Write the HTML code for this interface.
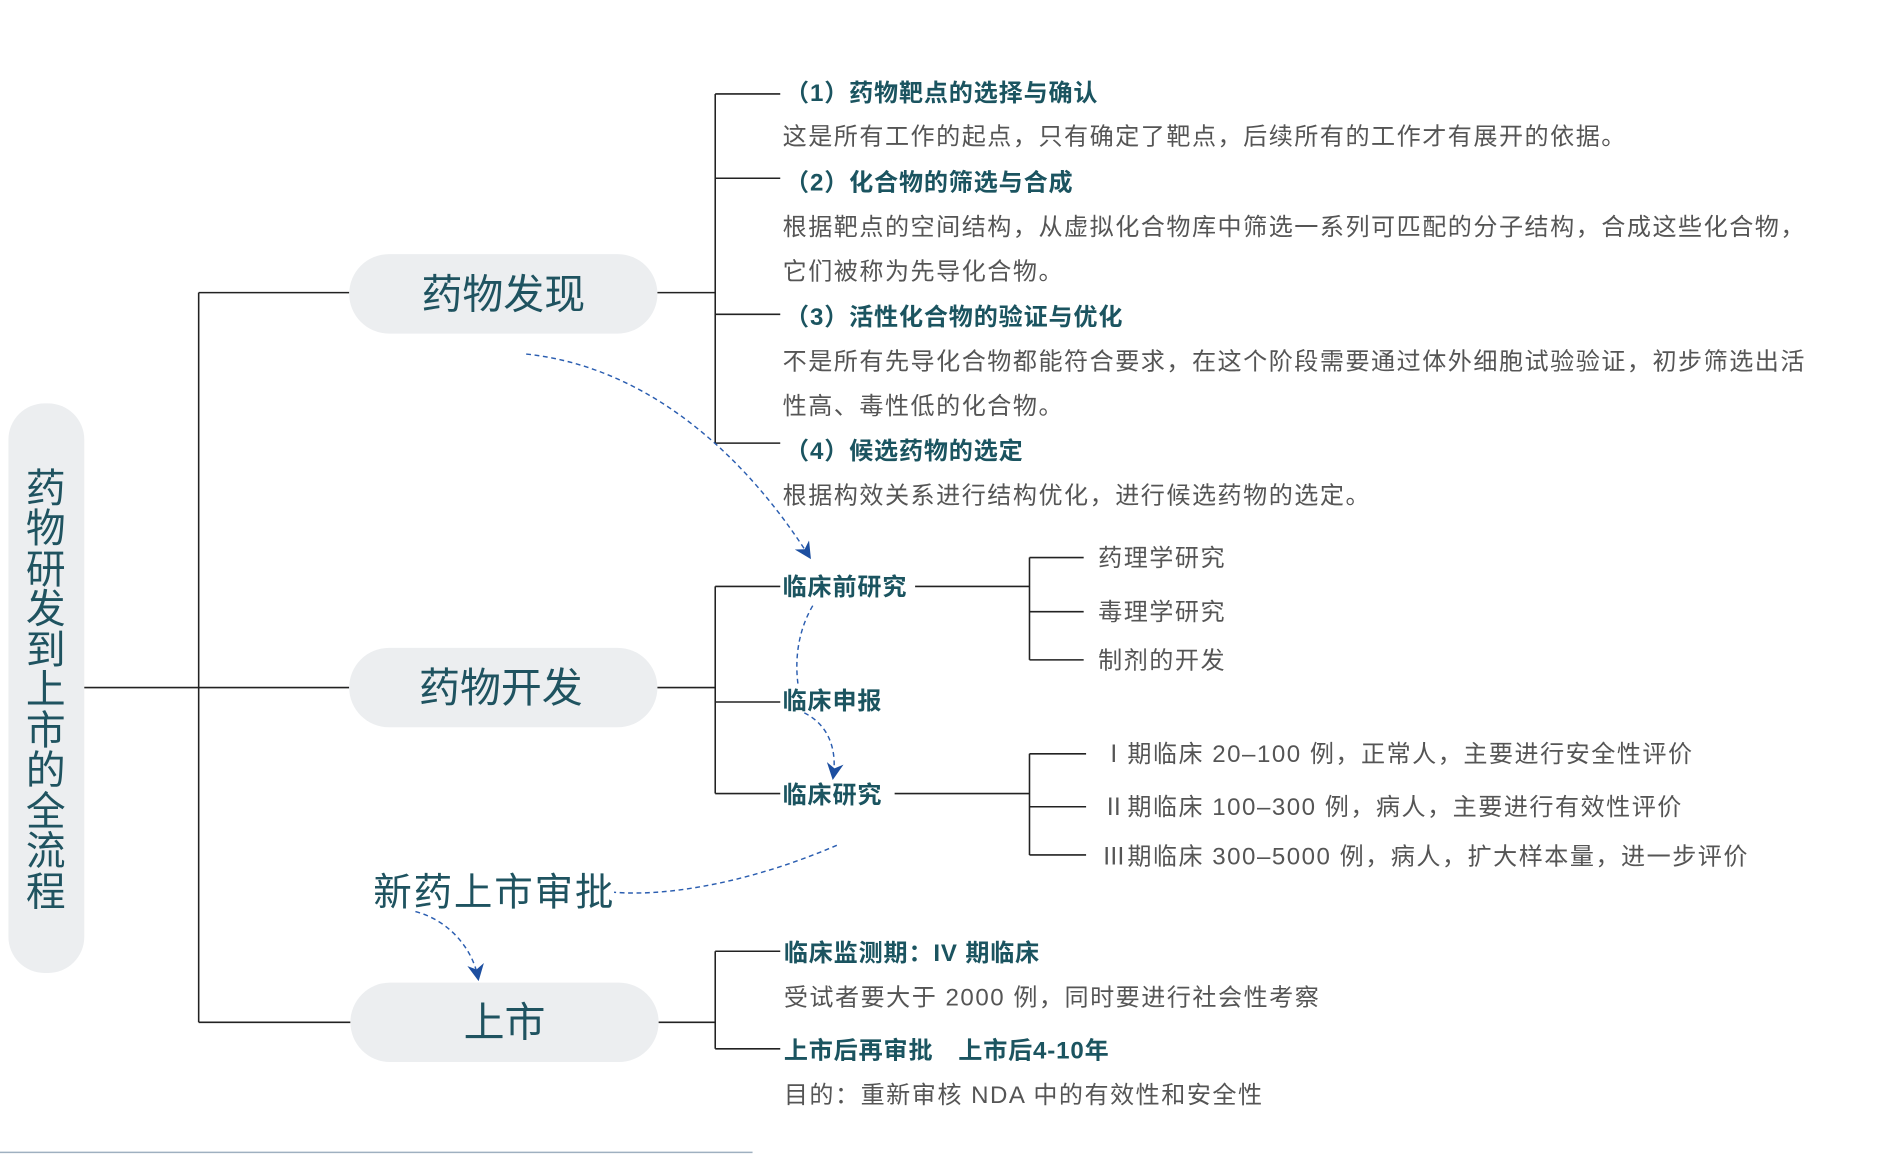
<!DOCTYPE html>
<html><head><meta charset="utf-8"><style>
html,body{margin:0;padding:0;background:#fff;}
svg{display:block;}
text{font-family:"Liberation Sans","Noto Sans CJK SC",sans-serif;}
.h{font-size:20px;font-weight:bold;fill:#1b5460;letter-spacing:0.7px;}
.b{font-size:20px;fill:#555;letter-spacing:1.25px;}
.p{font-size:34px;fill:#1f5360;}
.l{stroke:#222;stroke-width:1.3;fill:none;}
.d{stroke:#2a5db0;stroke-width:1.2;fill:none;stroke-dasharray:4 3;}
</style></head><body>
<svg width="1888" height="1156" viewBox="0 0 1568 960" xmlns="http://www.w3.org/2000/svg">
<defs><marker id="a" viewBox="0 0 10 10" refX="8" refY="5" markerWidth="14" markerHeight="14" markerUnits="userSpaceOnUse" orient="auto"><path d="M0,0 L10,5 L0,10 L3,5z" fill="#1d4fa0"/></marker></defs>
<rect x="7" y="335" width="63" height="473" rx="30" fill="#eceef0"/>
<g class="p" style="font-size:33px" text-anchor="middle">
<text x="38" y="417">药</text><text x="38" y="450">物</text><text x="38" y="484">研</text><text x="38" y="517">发</text><text x="38" y="551">到</text><text x="38" y="584">上</text><text x="38" y="618">市</text><text x="38" y="651">的</text><text x="38" y="685">全</text><text x="38" y="718">流</text><text x="38" y="752">程</text>
</g>
<path class="l" d="M70,571H165M165,243V849M165,243H290M165,571H290M165,849H291"/>
<rect x="290" y="211" width="256" height="66" rx="33" fill="#eceef0"/>
<rect x="290" y="538" width="256" height="66" rx="33" fill="#eceef0"/>
<rect x="291" y="816" width="256" height="66" rx="33" fill="#eceef0"/>
<text class="p" x="418" y="256" text-anchor="middle">药物发现</text>
<text class="p" x="416" y="583" text-anchor="middle">药物开发</text>
<text class="p" x="419" y="861" text-anchor="middle">上市</text>
<text class="p" x="310" y="752" style="font-size:32px;letter-spacing:1.5px">新药上市审批</text>
<path class="l" d="M546,243H594M594,78V368M594,78H648M594,148H648M594,261H648M594,368H648"/>
<text class="h" x="652" y="84">（1）药物靶点的选择与确认</text>
<text class="b" x="650" y="120">这是所有工作的起点，只有确定了靶点，后续所有的工作才有展开的依据。</text>
<text class="h" x="652" y="158">（2）化合物的筛选与合成</text>
<text class="b" x="650" y="195">根据靶点的空间结构，从虚拟化合物库中筛选一系列可匹配的分子结构，合成这些化合物，</text>
<text class="b" x="650" y="232">它们被称为先导化合物。</text>
<text class="h" x="652" y="270">（3）活性化合物的验证与优化</text>
<text class="b" x="650" y="307">不是所有先导化合物都能符合要求，在这个阶段需要通过体外细胞试验验证，初步筛选出活</text>
<text class="b" x="650" y="344">性高、毒性低的化合物。</text>
<text class="h" x="652" y="381">（4）候选药物的选定</text>
<text class="b" x="650" y="418">根据构效关系进行结构优化，进行候选药物的选定。</text>
<path class="l" d="M546,571H594M594,487V659M594,487H648M594,583H648M594,659H648"/>
<text class="h" x="650" y="494">临床前研究</text>
<text class="h" x="650" y="589">临床申报</text>
<text class="h" x="650" y="667">临床研究</text>
<path class="l" d="M760,487H855M855,463V548M855,463H900M855,508H900M855,548H900"/>
<text class="b" x="912" y="470">药理学研究</text>
<text class="b" x="912" y="515">毒理学研究</text>
<text class="b" x="912" y="555">制剂的开发</text>
<path class="l" d="M743,659H855M855,626V710M855,626H902M855,670H902M855,710H902"/>
<text class="b" x="915" y="633">Ⅰ期临床 20–100 例，正常人，主要进行安全性评价</text>
<text class="b" x="915" y="677">Ⅱ期临床 100–300 例，病人，主要进行有效性评价</text>
<text class="b" x="915" y="718">Ⅲ期临床 300–5000 例，病人，扩大样本量，进一步评价</text>
<path class="l" d="M547,849H594M594,790V871M594,790H648M594,871H648"/>
<text class="h" x="651" y="798">临床监测期：IV 期临床</text>
<text class="b" x="651" y="835">受试者要大于 2000 例，同时要进行社会性考察</text>
<text class="h" x="651" y="879">上市后再审批　上市后4-10年</text>
<text class="b" x="651" y="916">目的：重新审核 NDA 中的有效性和安全性</text>
<path d="M0,957H625" stroke="#9fb0c0" stroke-width="1.2"/>
<path class="d" marker-end="url(#a)" d="M437,294 C540,305 620,380 672,462"/>
<path class="d" d="M675,503 C662,525 660,550 663,570"/>
<path class="d" marker-end="url(#a)" d="M668,592 C690,603 695,625 692,645"/>
<path class="d" d="M695,702 C630,730 560,745 510,741"/>
<path class="d" marker-end="url(#a)" d="M345,757 C375,765 393,790 397,812"/>
</svg>
</body></html>
